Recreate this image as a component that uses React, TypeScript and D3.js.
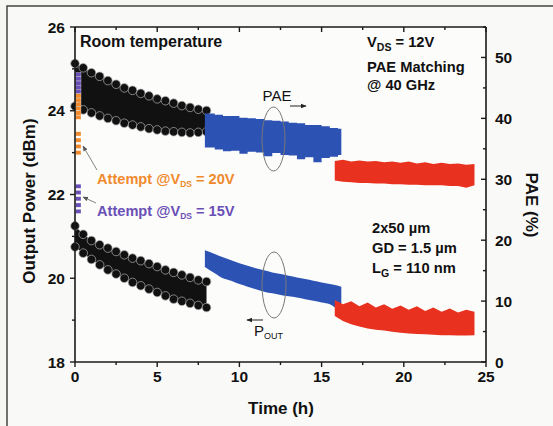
import React from 'react';
import * as d3 from 'd3';

// time axis ticks
const timeTicks = [0, 5, 10, 15, 20, 25];
const powerTicks = [18, 20, 22, 24, 26];
const paeTicks = [0, 10, 20, 30, 40, 50];

// black segment (0-8 h), sampled every 0.5 h
const blackTime = [0, 0.5, 1, 1.5, 2, 2.5, 3, 3.5, 4, 4.5, 5, 5.5, 6, 6.5, 7, 7.5, 8];
const blackPaeTop = [49.0, 48.3, 47.5, 46.9, 46.2, 45.6, 45.0, 44.6, 44.1, 43.7, 43.2, 42.9, 42.5, 42.1, 41.8, 41.5, 41.3];
const blackPaeBot = [42.0, 41.4, 40.9, 40.4, 40.0, 39.6, 39.2, 38.9, 38.6, 38.3, 38.1, 37.9, 37.8, 37.7, 37.6, 37.7, 37.8];
const blackPoutTop = [21.25, 21.05, 20.9, 20.8, 20.72, 20.64, 20.56, 20.48, 20.42, 20.35, 20.28, 20.2, 20.14, 20.08, 20.02, 19.96, 19.92];
const blackPoutBot = [20.75, 20.6, 20.45, 20.32, 20.2, 20.1, 20.0, 19.9, 19.82, 19.74, 19.66, 19.58, 19.5, 19.45, 19.4, 19.35, 19.3];

// blue segment (8-16 h)
const blueTime = [7.9, 8.5, 9, 9.5, 10, 10.5, 11, 11.5, 12, 12.5, 13, 13.5, 14, 14.5, 15, 15.5, 16, 16.2];
const bluePaeTop = [40.8, 40.6, 40.4, 40.4, 40.1, 40.0, 39.9, 39.7, 39.6, 39.5, 39.3, 39.2, 38.9, 38.9, 38.7, 38.4, 38.3, 38.2];
const bluePaeBot = [35.2, 34.9, 34.6, 34.7, 34.2, 34.5, 34.4, 33.8, 34.3, 34.0, 33.9, 33.3, 33.6, 32.8, 33.5, 33.7, 34.0, 34.2];
const bluePoutTop = [20.67, 20.58, 20.5, 20.43, 20.36, 20.3, 20.24, 20.19, 20.14, 20.1, 20.06, 20.02, 19.98, 19.94, 19.9, 19.86, 19.82, 19.8];
const bluePoutBot = [20.27, 20.12, 20.0, 19.94, 19.86, 19.8, 19.74, 19.68, 19.64, 19.6, 19.57, 19.54, 19.5, 19.46, 19.42, 19.38, 19.25, 19.2];

// red segment (16-24 h)
const redTime = [15.8, 16.3, 16.8, 17.3, 17.8, 18.3, 18.8, 19.3, 19.8, 20.3, 20.8, 21.3, 21.8, 22.3, 22.8, 23.3, 23.8, 24.3];
const redPaeTop = [33.0, 33.2, 32.9, 33.1, 32.9, 33.0, 32.8, 32.9, 32.7, 32.9, 32.6, 32.8, 32.5, 32.7, 32.5, 32.6, 32.4, 32.5];
const redPaeBot = [29.8, 29.6, 29.5, 29.4, 29.4, 29.3, 29.3, 29.2, 29.2, 29.1, 29.1, 29.0, 29.0, 29.0, 28.9, 28.9, 28.6, 29.0];
const redPoutTop = [19.48, 19.38, 19.45, 19.33, 19.42, 19.3, 19.38, 19.27, 19.35, 19.25, 19.33, 19.22, 19.3, 19.2, 19.28, 19.18, 19.25, 19.2];
const redPoutBot = [19.1, 18.98, 18.9, 18.85, 18.8, 18.77, 18.75, 18.72, 18.7, 18.68, 18.67, 18.66, 18.65, 18.64, 18.64, 18.63, 18.63, 18.64];

// early attempts at t ~ 0
const purplePae = [47.2, 46.5, 45.8, 45.1, 44.4];
const orangePae = [43.7, 43.0, 42.3, 41.6, 40.9, 40.2];
const orangePout = [23.45, 23.3, 23.15, 23.0];
const purplePout = [22.2, 22.05, 21.9, 21.75, 21.6];

const W = 553;
const H = 426;
const m = { left: 75, right: 486, top: 27, bottom: 362 };
const FONT = '"Liberation Sans", Arial, sans-serif';

const BLUE = '#2c52b4';
const RED = '#e8321f';
const ORANGE = '#f08a2c';
const PURPLE = '#6a4fb6';

function App() {
    const x = d3.scaleLinear().domain([0, 25]).range([m.left, m.right]);
    const yP = d3.scaleLinear().domain([18, 26]).range([m.bottom, m.top]);
    const yE = d3.scaleLinear().domain([0, 55]).range([m.bottom, m.top]);

    const band = (time, top, bot, y, curve) => {
        const rows = time.map((t, i) => ({ t, a: top[i], b: bot[i] }));
        return d3.area()
            .x(d => x(d.t))
            .y0(d => y(d.b))
            .y1(d => y(d.a))
            .curve(curve)(rows);
    };

    const circles = (time, vals, y, key) =>
        time.map((t, i) => (
            <circle key={key + i} cx={x(t)} cy={y(vals[i])} r={4.3}
                fill="#111" stroke="#b0b0b0" strokeWidth={0.7} />
        ));

    const stack = (vals, y, color, key) =>
        vals.map((v, i) => (
            <rect key={key + i} x={x(0) + 0.5} y={y(v) - 2} width={5.5} height={4.2}
                fill={color} stroke="#fff" strokeWidth={0.3} />
        ));

    const minor = d3.range(0, 25.01, 2.5);
    const minorP = d3.range(18, 26.01, 1);
    const minorE = d3.range(0, 55.01, 5);

    return (
        <svg width={W} height={H} style={{ position: 'absolute', left: 0, top: 0 }}
            fontFamily={FONT} fontWeight="bold">
            <defs>
                <marker id="ah" viewBox="0 0 10 10" refX="9" refY="5" markerWidth="6" markerHeight="6" orient="auto">
                    <path d="M0,1 L10,5 L0,9 z" fill="#222" />
                </marker>
                <marker id="ahg" viewBox="0 0 10 10" refX="9" refY="5" markerWidth="7" markerHeight="7" orient="auto">
                    <path d="M0,1 L10,5 L0,9 z" fill="#555" />
                </marker>
            </defs>
            <rect x={0} y={0} width={W} height={H} fill="#f6f6f3" />
            <rect x={7} y={6} width={W} height={H} fill="#f9f9f7" stroke="#444" strokeWidth={1.5} />
            <rect x={m.left} y={m.top} width={m.right - m.left} height={m.bottom - m.top} fill="#fcfcfb" />

            {/* bands */}
            <path d={band(blackTime, blackPaeTop, blackPaeBot, yE, d3.curveLinear)} fill="#111" />
            <path d={band(blackTime, blackPoutTop, blackPoutBot, yP, d3.curveLinear)} fill="#111" />
            {circles(blackTime, blackPaeTop, yE, 'bpt')}
            {circles(blackTime, blackPaeBot, yE, 'bpb')}
            {circles(blackTime, blackPoutTop, yP, 'bot')}
            {circles(blackTime, blackPoutBot, yP, 'bob')}

            <path d={band(blueTime, bluePaeTop, bluePaeBot, yE, d3.curveStepAfter)} fill={BLUE} />
            <path d={band(blueTime, bluePoutTop, bluePoutBot, yP, d3.curveMonotoneX)} fill={BLUE} />
            <path d={band(redTime, redPaeTop, redPaeBot, yE, d3.curveLinear)} fill={RED} />
            <path d={band(redTime, redPoutTop, redPoutBot, yP, d3.curveLinear)} fill={RED} />

            {stack(purplePae, yE, PURPLE, 'pp')}
            {stack(orangePae, yE, ORANGE, 'op')}
            {stack(orangePout, yP, ORANGE, 'oo')}
            {stack(purplePout, yP, PURPLE, 'po')}

            {/* axes frame */}
            <g stroke="#1a1a1a" strokeWidth={1.6} fill="none">
                <line x1={m.left} x2={m.right} y1={m.bottom} y2={m.bottom} />
                <line x1={m.left} x2={m.right} y1={m.top} y2={m.top} />
                <line x1={m.left} x2={m.left} y1={m.top} y2={m.bottom} />
                <line x1={m.right} x2={m.right} y1={m.top} y2={m.bottom} />
            </g>
            <g stroke="#1a1a1a" strokeWidth={1.4}>
                {minor.map(t => {
                    const major = t % 5 === 0;
                    return (
                        <g key={'xt' + t}>
                            <line x1={x(t)} x2={x(t)} y1={m.bottom} y2={m.bottom + (major ? 5 : 3)} />
                            <line x1={x(t)} x2={x(t)} y1={m.top} y2={m.top + (major ? 5 : 3)} />
                        </g>
                    );
                })}
                {minorP.map(v => (
                    <line key={'pt' + v} x1={m.left - (v % 2 === 0 ? 5 : 3)} x2={m.left} y1={yP(v)} y2={yP(v)} />
                ))}
                {minorE.map(v => (
                    <line key={'et' + v} x1={m.right - (v % 10 === 0 ? 5 : 3)} x2={m.right} y1={yE(v)} y2={yE(v)} />
                ))}
            </g>
            <g fontSize={15.5} fill="#111">
                {timeTicks.map(t => (
                    <text key={'xl' + t} x={x(t)} y={m.bottom + 20} textAnchor="middle">{t}</text>
                ))}
                {powerTicks.map(v => (
                    <text key={'pl' + v} x={m.left - 10} y={yP(v) + 5.5} textAnchor="end">{v}</text>
                ))}
                {paeTicks.map(v => (
                    <text key={'el' + v} x={m.right + 9} y={yE(v) + 5.5}>{v}</text>
                ))}
            </g>

            {/* axis titles */}
            <text x={281} y={414} fontSize={17} textAnchor="middle" fill="#111">Time (h)</text>
            <text transform="translate(35,201) rotate(-90)" fontSize={17} textAnchor="middle" fill="#111">Output Power (dBm)</text>
            <text transform="translate(526,205) rotate(90)" fontSize={17} textAnchor="middle" fill="#111">PAE (%)</text>

            {/* annotations */}
            <text x={80} y={47} fontSize={16} fill="#111">Room temperature</text>
            <g fontSize={14.7} fill="#111">
                <text x={367} y={47}>V<tspan fontSize={10.5} dy={4}>DS</tspan><tspan dy={-4}> = 12V</tspan></text>
                <text x={367} y={72}>PAE Matching</text>
                <text x={367} y={90}>@ 40 GHz</text>
                <text x={372} y={233}>2x50 µm</text>
                <text x={372} y={253}>GD = 1.5 µm</text>
                <text x={372} y={273}>L<tspan fontSize={10.5} dy={4}>G</tspan><tspan dy={-4}> = 110 nm</tspan></text>
            </g>
            <text x={97} y={184} fontSize={14.6} fill={ORANGE}>Attempt @V<tspan fontSize={8.5} dy={3}>DS</tspan><tspan dy={-3}> = 20V</tspan></text>
            <text x={97} y={216} fontSize={14.6} fill={PURPLE}>Attempt @V<tspan fontSize={8.5} dy={3}>DS</tspan><tspan dy={-3}> = 15V</tspan></text>
            <line x1={97} y1={170} x2={83} y2={146} stroke="#666" strokeWidth={0.8} markerEnd="url(#ahg)" />
            <line x1={96} y1={203} x2={83} y2={197} stroke="#666" strokeWidth={0.8} markerEnd="url(#ahg)" />

            <text x={277} y={101} fontSize={15} textAnchor="middle" fill="#111" fontWeight="normal">PAE</text>
            <line x1={290} y1={106} x2={306} y2={106} stroke="#222" strokeWidth={1} markerEnd="url(#ah)" />
            <ellipse cx={273.5} cy={139} rx={11.5} ry={32} fill="none" stroke="#777" strokeWidth={1} />

            <ellipse cx={274} cy={285} rx={12} ry={33} fill="none" stroke="#777" strokeWidth={1} />
            <line x1={263} y1={320} x2={247} y2={320} stroke="#222" strokeWidth={1} markerEnd="url(#ah)" />
            <text x={254} y={336} fontSize={15} fill="#111" fontWeight="normal">P<tspan fontSize={9} dy={3}>OUT</tspan></text>
        </svg>
    );
}

export default App;
